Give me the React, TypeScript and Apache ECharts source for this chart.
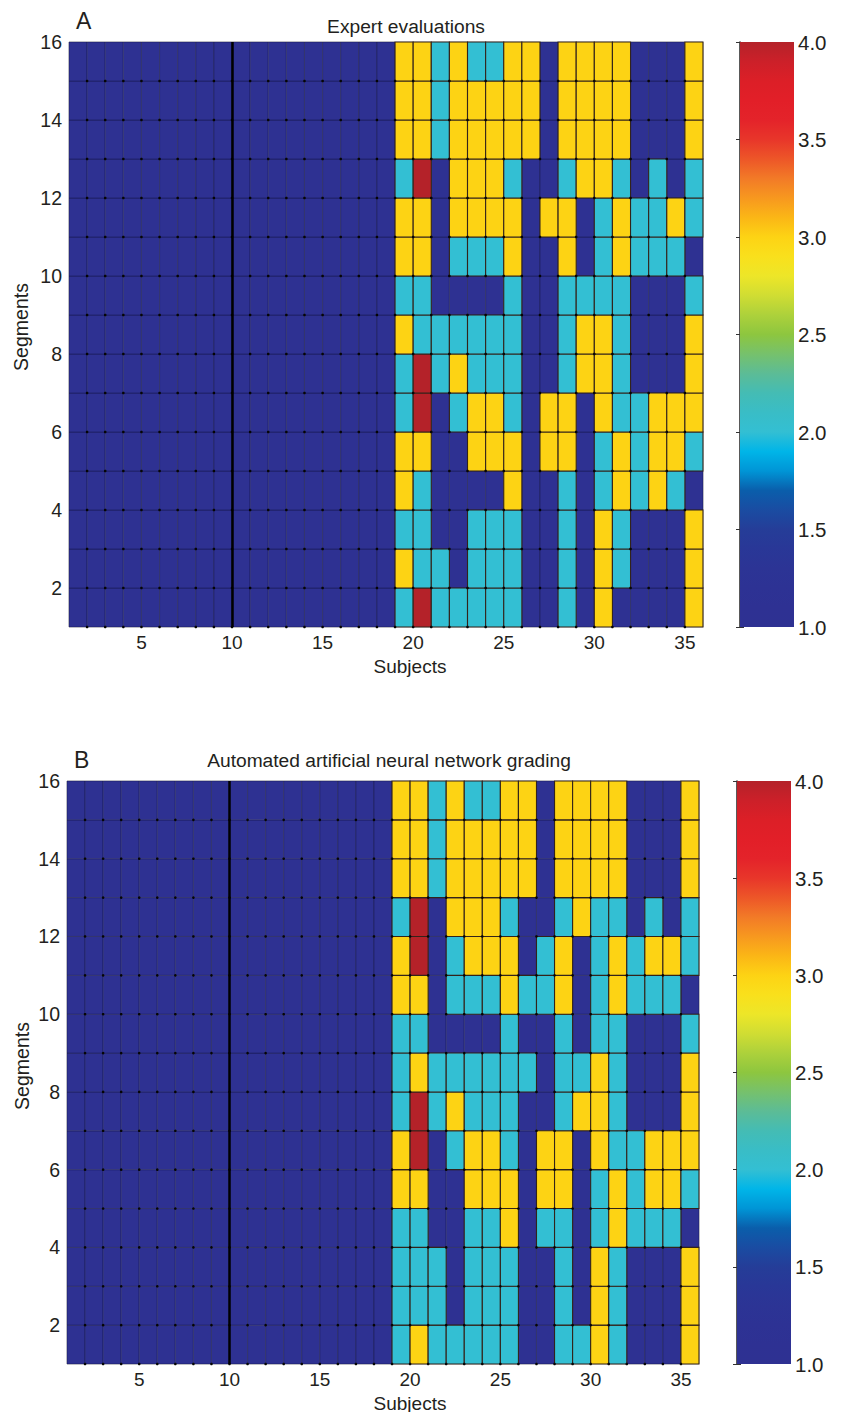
import React, { useEffect, useRef } from "react";
import * as echarts from "echarts";

// Grades per segment (row 1 = bottom segment), subjects 1..35 in each row
const expertRows: number[][] = [
  [1,1,1,1,1,1,1,1,1,1,1,1,1,1,1,1,1,1, 2,4,2,2,2,2,2,1,1,2,1,3,1,1,1,1,3],
  [1,1,1,1,1,1,1,1,1,1,1,1,1,1,1,1,1,1, 3,2,2,1,2,2,2,1,1,2,1,3,2,1,1,1,3],
  [1,1,1,1,1,1,1,1,1,1,1,1,1,1,1,1,1,1, 2,2,1,1,2,2,2,1,1,2,1,3,2,1,1,1,3],
  [1,1,1,1,1,1,1,1,1,1,1,1,1,1,1,1,1,1, 3,2,1,1,1,1,3,1,1,2,1,2,3,2,3,2,1],
  [1,1,1,1,1,1,1,1,1,1,1,1,1,1,1,1,1,1, 3,3,1,1,3,3,3,1,3,3,1,2,3,2,3,3,2],
  [1,1,1,1,1,1,1,1,1,1,1,1,1,1,1,1,1,1, 2,4,1,2,3,3,2,1,3,3,1,3,2,2,3,3,3],
  [1,1,1,1,1,1,1,1,1,1,1,1,1,1,1,1,1,1, 2,4,2,3,2,2,2,1,1,2,3,3,2,1,1,1,3],
  [1,1,1,1,1,1,1,1,1,1,1,1,1,1,1,1,1,1, 3,2,2,2,2,2,2,1,1,2,3,3,2,1,1,1,3],
  [1,1,1,1,1,1,1,1,1,1,1,1,1,1,1,1,1,1, 2,2,1,1,1,1,2,1,1,2,2,2,2,1,1,1,2],
  [1,1,1,1,1,1,1,1,1,1,1,1,1,1,1,1,1,1, 3,3,1,2,2,2,3,1,1,3,1,2,3,2,2,2,1],
  [1,1,1,1,1,1,1,1,1,1,1,1,1,1,1,1,1,1, 3,3,1,3,3,3,3,1,3,3,1,2,3,2,2,3,2],
  [1,1,1,1,1,1,1,1,1,1,1,1,1,1,1,1,1,1, 2,4,1,3,3,3,2,1,1,2,3,3,2,1,2,1,2],
  [1,1,1,1,1,1,1,1,1,1,1,1,1,1,1,1,1,1, 3,3,2,3,3,3,3,3,1,3,3,3,3,1,1,1,3],
  [1,1,1,1,1,1,1,1,1,1,1,1,1,1,1,1,1,1, 3,3,2,3,3,3,3,3,1,3,3,3,3,1,1,1,3],
  [1,1,1,1,1,1,1,1,1,1,1,1,1,1,1,1,1,1, 3,3,2,3,2,2,3,3,1,3,3,3,3,1,1,1,3],
];

const annRows: number[][] = [
  [1,1,1,1,1,1,1,1,1,1,1,1,1,1,1,1,1,1, 2,3,2,2,2,2,2,1,1,2,2,3,2,1,1,1,3],
  [1,1,1,1,1,1,1,1,1,1,1,1,1,1,1,1,1,1, 2,2,2,1,2,2,2,1,1,2,1,3,2,1,1,1,3],
  [1,1,1,1,1,1,1,1,1,1,1,1,1,1,1,1,1,1, 2,2,2,1,2,2,2,1,1,2,1,3,2,1,1,1,3],
  [1,1,1,1,1,1,1,1,1,1,1,1,1,1,1,1,1,1, 2,2,1,1,2,2,3,1,2,2,1,2,3,2,2,2,1],
  [1,1,1,1,1,1,1,1,1,1,1,1,1,1,1,1,1,1, 3,3,1,1,3,3,3,1,3,3,1,2,3,2,3,3,2],
  [1,1,1,1,1,1,1,1,1,1,1,1,1,1,1,1,1,1, 3,4,1,2,3,3,2,1,3,3,1,3,2,2,3,3,3],
  [1,1,1,1,1,1,1,1,1,1,1,1,1,1,1,1,1,1, 2,4,2,3,2,2,2,1,1,2,3,3,2,1,1,1,3],
  [1,1,1,1,1,1,1,1,1,1,1,1,1,1,1,1,1,1, 2,3,2,2,2,2,2,2,1,2,2,3,2,1,1,1,3],
  [1,1,1,1,1,1,1,1,1,1,1,1,1,1,1,1,1,1, 2,2,1,1,1,1,2,1,1,2,1,2,2,1,1,1,2],
  [1,1,1,1,1,1,1,1,1,1,1,1,1,1,1,1,1,1, 3,3,1,2,2,2,3,2,2,3,1,2,3,2,2,2,1],
  [1,1,1,1,1,1,1,1,1,1,1,1,1,1,1,1,1,1, 3,4,1,2,3,3,3,1,2,3,1,2,3,2,3,3,2],
  [1,1,1,1,1,1,1,1,1,1,1,1,1,1,1,1,1,1, 2,4,1,3,3,3,2,1,1,2,3,2,2,1,2,1,2],
  [1,1,1,1,1,1,1,1,1,1,1,1,1,1,1,1,1,1, 3,3,2,3,3,3,3,3,1,3,3,3,3,1,1,1,3],
  [1,1,1,1,1,1,1,1,1,1,1,1,1,1,1,1,1,1, 3,3,2,3,3,3,3,3,1,3,3,3,3,1,1,1,3],
  [1,1,1,1,1,1,1,1,1,1,1,1,1,1,1,1,1,1, 3,3,2,3,2,2,3,3,1,3,3,3,3,1,1,1,3],
];

const xTicks = [5, 10, 15, 20, 25, 30, 35];
const yTicks = [2, 4, 6, 8, 10, 12, 14, 16];
const markedSubject = 10;
const gradeMin = 1;
const gradeMax = 4;

// colormap (value 1.0 -> 4.0, step 0.1)
const jet = [
  "#2e3192", "#2e3193", "#2d3294", "#2c3495", "#293797", "#253d98",
  "#1a4ca2", "#0a5eab", "#0095d6", "#00b5e8", "#33bfd3", "#39bdc6",
  "#44bcb4", "#5cbc96", "#76c16c", "#8dc63f", "#add13b", "#d0dd33",
  "#ede628", "#f9e01c", "#fdd314", "#fbb616", "#f7981f", "#f27a27",
  "#ed5628", "#e8362a", "#e4232a", "#e21f28", "#dc1f27", "#cc2029",
  "#b42229",
];

const FONT = "'Liberation Sans', Arial, Helvetica, sans-serif";
const TXT = "#231f20";

function toData(rows: number[][]) {
  const out: number[][] = [];
  rows.forEach((row, si) => {
    row.forEach((v, xi) => {
      out.push([xi + 1, si + 1, v]);
    });
  });
  return out;
}

export default function App() {
  const ref = useRef<HTMLDivElement>(null);
  useEffect(() => {
    document.body.style.margin = "0";
    if (!ref.current) return;
    const chart = echarts.init(ref.current, null, { renderer: "svg" });

    const cellRender = (params: any, api: any) => {
      const x = api.value(0);
      const y = api.value(1);
      const v = api.value(2);
      const p0 = api.coord([x, y + 1]);
      const p1 = api.coord([x + 1, y]);
      const colored = v > 1.5;
      return {
        type: "rect",
        z2: colored ? 2 : 1,
        shape: { x: p0[0], y: p0[1], width: p1[0] - p0[0], height: p1[1] - p0[1] },
        style: {
          fill: api.visual("color"),
          stroke: colored ? "#33231a" : "rgba(15,15,45,0.45)",
          lineWidth: colored ? 1.1 : 0.8,
        },
      };
    };

    const dotRender = (params: any, api: any) => {
      const x = api.value(0);
      const y = api.value(1);
      if (x <= 1) return null;
      const p = api.coord([x, y]);
      return {
        type: "circle",
        shape: { cx: p[0], cy: p[1], r: 1.3 },
        style: { fill: "#050505" },
      };
    };

    const barRender = (params: any, api: any) => {
      const p0 = api.coord([0, gradeMax]);
      const p1 = api.coord([1, gradeMin]);
      const n = jet.length;
      const stops = jet.map((c, i) => ({ offset: 1 - i / (n - 1), color: c })).reverse();
      return {
        type: "rect",
        shape: { x: p0[0], y: p0[1], width: p1[0] - p0[0], height: p1[1] - p0[1] },
        style: { fill: new echarts.graphic.LinearGradient(0, 0, 0, 1, stops) },
      };
    };

    const grids = [
      { left: 69, top: 42, width: 634, height: 585 },
      { left: 740, top: 42, width: 54, height: 585 },
      { left: 67, top: 781, width: 632, height: 583 },
      { left: 737, top: 781, width: 54, height: 583 },
    ];

    const heatX = (gi: number) => ({
      type: "value",
      gridIndex: gi,
      min: 1,
      max: 36,
      axisLine: { show: false },
      axisTick: { show: false },
      splitLine: { show: false },
      axisLabel: {
        customValues: xTicks,
        margin: 6,
        fontSize: 19,
        fontFamily: FONT,
        color: TXT,
      },
    });
    const heatY = (gi: number) => ({
      type: "value",
      gridIndex: gi,
      min: 1,
      max: 16,
      axisLine: { show: false },
      axisTick: { show: false },
      splitLine: { show: false },
      axisLabel: {
        customValues: yTicks,
        margin: 7,
        fontSize: 19.5,
        fontFamily: FONT,
        color: TXT,
      },
    });
    const barX = (gi: number) => ({
      type: "value",
      gridIndex: gi,
      min: 0,
      max: 1,
      show: false,
    });
    const barYRight = (gi: number) => ({
      type: "value",
      gridIndex: gi,
      position: "right",
      min: gradeMin,
      max: gradeMax,
      interval: 0.5,
      splitLine: { show: false },
      axisLine: { show: false },
      axisTick: { show: true, inside: true, length: 4, lineStyle: { color: "#333" } },
      axisLabel: {
        margin: 4,
        fontSize: 20.5,
        fontFamily: FONT,
        color: TXT,
        formatter: (v: number) => v.toFixed(1),
      },
    });
    const barYLeft = (gi: number) => ({
      type: "value",
      gridIndex: gi,
      position: "left",
      min: gradeMin,
      max: gradeMax,
      interval: 0.5,
      splitLine: { show: false },
      axisLine: { show: true, lineStyle: { color: "#222", width: 1.5 } },
      axisTick: { show: true, inside: true, length: 4, lineStyle: { color: "#333" } },
      axisLabel: { show: false },
    });

    const vline = {
      symbol: "none",
      silent: true,
      label: { show: false },
      lineStyle: { color: "#000", width: 2.5, type: "solid" },
      data: [{ xAxis: markedSubject }],
    };

    const dataA = toData(expertRows);
    const dataB = toData(annRows);

    const txt = (text: string, x: number, y: number, size: number, align: string, rot = 0) => ({
      type: "text",
      x,
      y,
      rotation: rot,
      style: {
        text,
        font: `${size}px ${FONT}`,
        fill: TXT,
        align,
        verticalAlign: "middle",
        textAlign: align,
        textVerticalAlign: "middle",
      },
    });

    const option: any = {
      animation: false,
      backgroundColor: "#fff",
      grid: grids.map((g, i) => ({
        ...g,
        show: i === 0 || i === 2,
        borderColor: "#c8c8c8",
        borderWidth: 1,
        backgroundColor: "transparent",
      })),
      xAxis: [heatX(0), barX(1), heatX(2), barX(3)],
      yAxis: [heatY(0), barYRight(1), barYLeft(1), heatY(2), barYRight(3), barYLeft(3)],
      visualMap: {
        show: false,
        type: "continuous",
        min: gradeMin,
        max: gradeMax,
        dimension: 2,
        seriesIndex: [0, 2],
        inRange: { color: jet },
      },
      series: [
        {
          type: "custom",
          xAxisIndex: 0,
          yAxisIndex: 0,
          renderItem: cellRender,
          data: dataA,
          encode: { x: 0, y: 1 },
        },
        {
          type: "custom",
          xAxisIndex: 0,
          yAxisIndex: 0,
          renderItem: dotRender,
          data: dataA,
          encode: { x: 0, y: 1 },
          markLine: vline,
          z: 3,
        },
        {
          type: "custom",
          xAxisIndex: 2,
          yAxisIndex: 3,
          renderItem: cellRender,
          data: dataB,
          encode: { x: 0, y: 1 },
        },
        {
          type: "custom",
          xAxisIndex: 2,
          yAxisIndex: 3,
          renderItem: dotRender,
          data: dataB,
          encode: { x: 0, y: 1 },
          markLine: vline,
          z: 3,
        },
        {
          type: "custom",
          xAxisIndex: 1,
          yAxisIndex: 1,
          renderItem: barRender,
          data: [[0, gradeMin]],
        },
        {
          type: "custom",
          xAxisIndex: 3,
          yAxisIndex: 4,
          renderItem: barRender,
          data: [[0, gradeMin]],
        },
      ],
      graphic: [
        txt("A", 76, 21, 23, "left"),
        txt("Expert evaluations", 406, 26, 19.2, "center"),
        txt("Segments", 21, 327, 19.5, "center", Math.PI / 2),
        txt("Subjects", 410, 666, 19, "center"),
        txt("B", 74, 760, 23, "left"),
        txt("Automated artificial neural network grading", 389, 760, 19.2, "center"),
        txt("Segments", 22, 1066, 19.5, "center", Math.PI / 2),
        txt("Subjects", 410, 1403, 19, "center"),
      ],
    };

    chart.setOption(option);
    return () => {
      chart.dispose();
    };
  }, []);

  return <div ref={ref} style={{ width: 842, height: 1412 }} />;
}
